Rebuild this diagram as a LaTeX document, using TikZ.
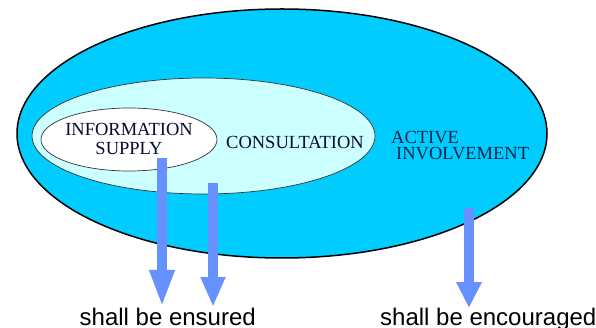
\documentclass[tikz,border=0pt]{standalone}
\usepackage{fontspec}
\setmainfont{Liberation Serif}
\newfontfamily\labelsans{Liberation Sans}
\usetikzlibrary{shapes.geometric,arrows.meta}
\definecolor{outercyan}{RGB}{0,204,255}
\definecolor{midcyan}{RGB}{204,255,255}
\definecolor{arrowblue}{RGB}{102,145,255}
\definecolor{navytext}{RGB}{10,10,50}
\definecolor{tealtext}{RGB}{0,40,70}
\tikzset{
  blob/.style={ellipse, inner sep=0pt, draw=black},
  captext/.style={inner sep=0pt, font=\fontsize{18.5}{19}\selectfont, text=navytext},
  bigarrow/.style={draw=arrowblue, line width=10.5pt},
  caption/.style={inner sep=0pt, anchor=base west, font=\labelsans\fontsize{24}{26}\selectfont}
}
\begin{document}
\begin{tikzpicture}[x=1pt, y=-1pt]
\useasboundingbox (0,0) rectangle (596,328);
\node[blob, fill=outercyan, line width=1.5pt, minimum width=530pt, minimum height=249pt] (outer) at (282,133.5) {};
\node[blob, fill=midcyan, line width=0.7pt, draw=black!80, minimum width=343pt, minimum height=116pt] (middle) at (203.5,136) {};
\node[blob, fill=white, line width=0.7pt, draw=black!80, minimum width=176pt, minimum height=63pt] (inner) at (129,139.5) {};
\node[captext, anchor=north, align=center] (info) at (129,122.9) {INFORMATION\\SUPPLY};
\node[captext, anchor=base] (cons) at (295,148.1) {CONSULTATION};
\node[captext, anchor=north west, align=left, text=tealtext, font=\fontsize{18.5}{16}\selectfont] (act) at (391,130.9) {ACTIVE\\\hspace*{5pt}INVOLVEMENT};
\coordinate (a1s) at (162,158);
\coordinate (a1e) at (162,307);
\coordinate (a2s) at (213,183);
\coordinate (a2e) at (213,307);
\coordinate (a3s) at (469,208);
\coordinate (a3e) at (469,308);
\draw[bigarrow, -{Triangle[width=23pt,length=37pt]}] (a1s) -- (a1e);
\draw[bigarrow, -{Triangle[width=23pt,length=30pt]}] (a2s) -- (a2e);
\draw[bigarrow, -{Triangle[width=24pt,length=26pt]}] (a3s) -- (a3e);
\node[caption] (ensured) at (79.5,325.5) {shall be ensured};
\node[caption] (encouraged) at (380,325.5) {shall be encouraged};
\end{tikzpicture}
\end{document}
